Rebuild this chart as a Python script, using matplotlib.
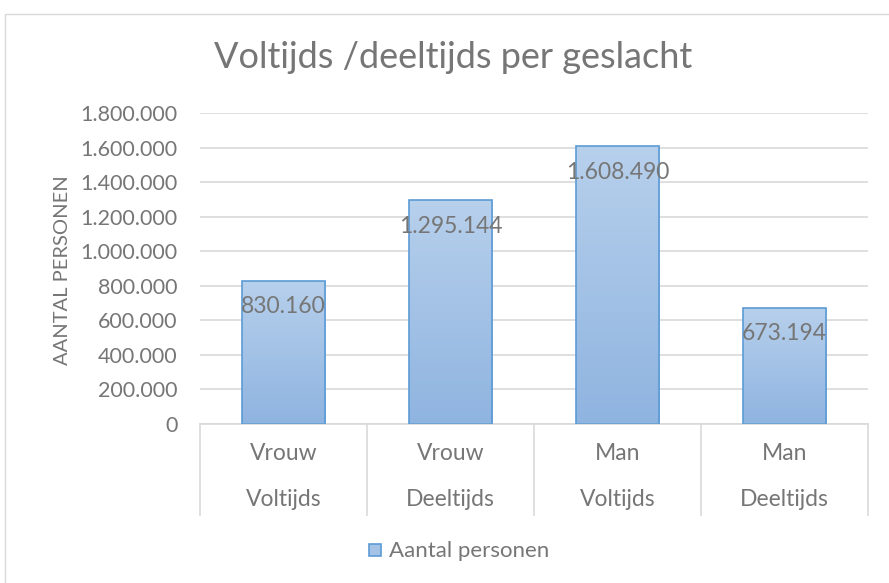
import numpy as np
import matplotlib.pyplot as plt
from matplotlib.patches import Rectangle
from matplotlib.colors import LinearSegmentedColormap
from matplotlib.transforms import blended_transform_factory

plt.rcParams['font.family'] = ['Lato', 'DejaVu Sans']

geslacht = ["Vrouw", "Vrouw", "Man", "Man"]
soort = ["Voltijds", "Deeltijds", "Voltijds", "Deeltijds"]
aantal = [830160, 1295144, 1608490, 673194]
labels = ["830.160", "1.295.144", "1.608.490", "673.194"]
yticks = [0, 200000, 400000, 600000, 800000, 1000000, 1200000, 1400000, 1600000, 1800000]
ytick_labels = ["0", "200.000", "400.000", "600.000", "800.000", "1.000.000",
                "1.200.000", "1.400.000", "1.600.000", "1.800.000"]

W, H = 889, 583
fig = plt.figure(figsize=(W / 100, H / 100), dpi=100)
ax = fig.add_axes([200 / W, 1 - 424 / H, 668 / W, 311 / H])

grey = "#767676"
gridc = "#d9d9d9"

# outer chart border
fig.patches.append(Rectangle((5 / W, -0.1), 1.0, 1 - 14 / H + 0.1, transform=fig.transFigure,
                             fill=False, edgecolor=gridc, linewidth=1))

x = np.arange(len(aantal))
bars = ax.bar(x, aantal, width=0.5, color="none", edgecolor="#5b9bd5", linewidth=1.2, zorder=3)

# vertical gradient fill, like the Excel bars
grad = np.linspace(0, 1, 256).reshape(-1, 1)
cmap = LinearSegmentedColormap.from_list("g", ["#8fb4e0", "#b7d0ec"])
for b in bars:
    im = ax.imshow(grad, cmap=cmap, origin="lower", aspect="auto", zorder=2,
                   extent=[b.get_x(), b.get_x() + b.get_width(), 0, b.get_height()])
    im.set_clip_path(b)

for xi, v, lab in zip(x, aantal, labels):
    ax.text(xi, v - 150000, lab, ha="center", va="center", fontsize=16.5, color=grey, zorder=4)

ax.set_xlim(-0.5, len(aantal) - 0.5)
ax.set_ylim(0, 1800000)
ax.set_yticks(yticks)
ax.set_yticklabels(ytick_labels, fontsize=15.5, color=grey)
ax.tick_params(axis="y", length=0, pad=16)
ax.set_xticks([])
ax.yaxis.grid(True, color=gridc, linewidth=1.2)
ax.set_axisbelow(True)
for s in ["top", "right", "left"]:
    ax.spines[s].set_visible(False)
ax.spines["bottom"].set_color(gridc)
ax.spines["bottom"].set_linewidth(1.2)

# multi-level category axis
tr = blended_transform_factory(ax.transData, ax.transAxes)
depth = -91 / 311
for b in np.arange(-0.5, len(aantal), 1.0):
    ax.plot([b, b], [0, depth], transform=tr, color=gridc, linewidth=1.2, clip_on=False)
for xi, g, s in zip(x, geslacht, soort):
    ax.text(xi, -29 / 311, g, transform=tr, ha="center", va="center", fontsize=16.5, color=grey)
    ax.text(xi, -76 / 311, s, transform=tr, ha="center", va="center", fontsize=16.5, color=grey)

fig.text(62 / W, 1 - 270 / H, "AANTAL PERSONEN", rotation=90, ha="center", va="center",
         fontsize=14.5, color=grey)

fig.text(453 / W, 1 - 58 / H, "Voltijds /deeltijds per geslacht", ha="center", va="center",
         fontsize=26, color=grey)

# legend
fig.patches.append(Rectangle((369 / W, 1 - 556 / H), 12 / W, 12 / H, transform=fig.transFigure,
                             facecolor="#a5c3e7", edgecolor="#5b9bd5", linewidth=1.2))
fig.text(389 / W, 1 - 551 / H, "Aantal personen", ha="left", va="center", fontsize=16, color=grey)

fig.savefig("out.png", dpi=100)
